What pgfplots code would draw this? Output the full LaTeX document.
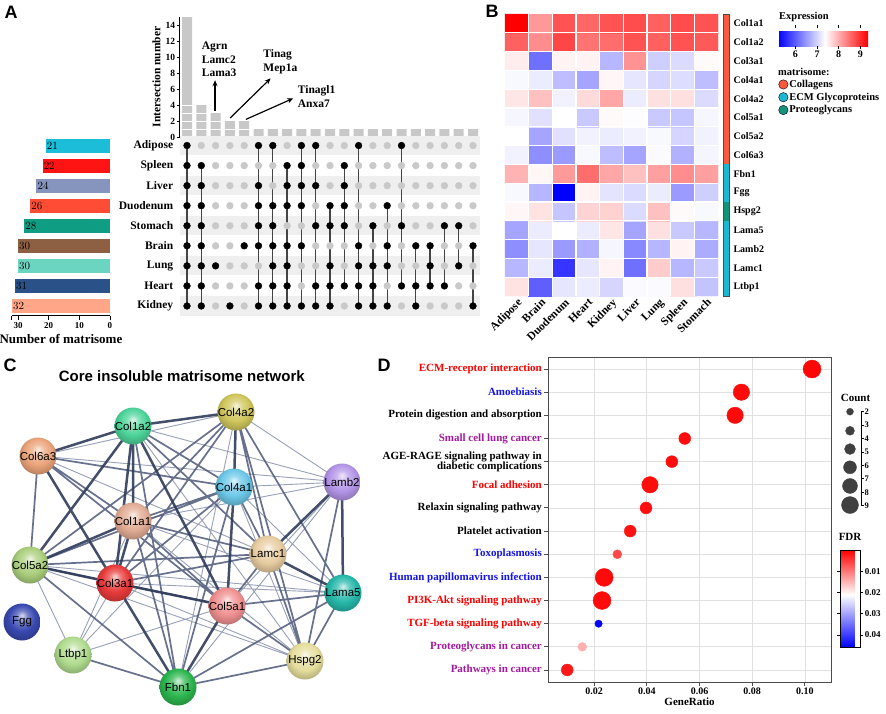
\documentclass[border=0pt]{standalone}
\usepackage{fontspec}
\setmainfont{Liberation Serif}
\setsansfont{Liberation Sans}
\usepackage{pgfplots}
\pgfplotsset{compat=1.18}
\usetikzlibrary{plotmarks,arrows.meta}
\newcommand{\fs}[1]{\fontsize{#1}{#1}\selectfont}
\definecolor{barg}{HTML}{C8C8C8}
\definecolor{dotg}{HTML}{C9C9C9}
\definecolor{stripe}{HTML}{EFEFEF}
\definecolor{vline}{HTML}{444444}
\definecolor{cAd}{HTML}{1BBDD9}
\definecolor{cSp}{HTML}{FF1414}
\definecolor{cLi}{HTML}{8595BE}
\definecolor{cDu}{HTML}{FF4D35}
\definecolor{cSt}{HTML}{0F9E83}
\definecolor{cBr}{HTML}{8D5F43}
\definecolor{cLu}{HTML}{6CD5C1}
\definecolor{cHe}{HTML}{2A5289}
\definecolor{cKi}{HTML}{FFA688}
\definecolor{mCol}{HTML}{F85A3E}
\definecolor{mECM}{HTML}{1CB8D2}
\definecolor{mPro}{HTML}{14937A}
\definecolor{tred}{HTML}{FF0000}
\definecolor{tblue}{HTML}{1414E6}
\definecolor{tpur}{HTML}{A3199F}
\definecolor{eThick}{HTML}{2F3B5A}
\definecolor{eMed}{HTML}{4D5878}
\definecolor{eThin}{HTML}{98A1B8}
\definecolor{cntg}{HTML}{404040}
\definecolor{n4a2}{HTML}{CFC65C}
\definecolor{n1a2}{HTML}{4CD49A}
\definecolor{n6a3}{HTML}{EBA47A}
\definecolor{n4a1}{HTML}{6CC8E8}
\definecolor{nLb2}{HTML}{B395E8}
\definecolor{n1a1}{HTML}{E2AC94}
\definecolor{nLc1}{HTML}{E8CCA0}
\definecolor{n5a2}{HTML}{AACF7C}
\definecolor{n3a1}{HTML}{E83A3A}
\definecolor{nLa5}{HTML}{26B8AA}
\definecolor{n5a1}{HTML}{F09090}
\definecolor{nFgg}{HTML}{3848B0}
\definecolor{nLt1}{HTML}{B0DC8E}
\definecolor{nHs2}{HTML}{E6DE9C}
\definecolor{nFb1}{HTML}{2CB64E}
\colorlet{nodec}{gray}
\pgfdeclareradialshading[nodec]{sball}{\pgfpoint{0bp}{9bp}}{color(0bp)=(nodec!20!white); color(8bp)=(nodec!70!white); color(18bp)=(nodec); color(28bp)=(nodec!80!black); color(50bp)=(nodec!60!black)}
\pgfdeclareplotmark{sball}{\pgfpathcircle{\pgfpointorigin}{\pgfplotmarksize}\pgfshadepath{sball}{0}\pgfusepath{}}
\begin{document}
\begin{tikzpicture}
\fill[white] (0pt,0pt) rectangle (886pt,-713pt);
\useasboundingbox (0pt,0pt) rectangle (886pt,-713pt);

% panel letters
\node[font=\sffamily\bfseries\fs{18}] at (11pt,-12pt) {A};
\node[font=\sffamily\bfseries\fs{18}] at (492pt,-11pt) {B};
\node[font=\sffamily\bfseries\fs{18}] at (10pt,-365pt) {C};
\node[font=\sffamily\bfseries\fs{18}] at (384pt,-365pt) {D};

% ---------------- A1: intersection bars
\begin{axis}[
  at={(179.85pt,-137pt)}, anchor=south west, scale only axis,
  width=300.3pt, height=120pt,
  xmin=0.5, xmax=21.5, ymin=0, ymax=15,
  axis x line=bottom, axis y line=left,
  axis line style={-, black, line width=1pt},
  xtick=\empty, ytick={0,2,4,6,8,10,12,14}, yticklabels={0,2,4,6,8,10,12,14},
  tick align=outside, major tick length=3pt, tick style={black, line width=0.8pt},
  yticklabel style={font=\bfseries\fs{9.5}, inner sep=1.5pt},
  ylabel={Intersection number}, ylabel style={font=\bfseries\fs{11.5}},
  clip=false]
\addplot[ybar, bar width=10pt, fill=barg, draw=none] coordinates {(1,15) (2,4) (3,3) (4,2) (5,2) (6,1) (7,1) (8,1) (9,1) (10,1) (11,1) (12,1) (13,1) (14,1) (15,1) (16,1) (17,1) (18,1) (19,1) (20,1) (21,1)};
\addplot[white, line width=0.8pt, unbounded coords=jump] coordinates {(0.5,1) (5.5,1) (nan,nan) (0.5,2) (3.5,2) (nan,nan) (0.5,3) (2.5,3) (nan,nan) (0.5,4) (1.5,4)};
\addplot[-{Stealth[length=6pt,width=5pt]}, line width=1.2pt] coordinates {(2.96,3.25) (2.96,7.1)};
\addplot[-{Stealth[length=6pt,width=5pt]}, line width=1.2pt] coordinates {(4.02,2.38) (6.85,7.33)};
\addplot[-{Stealth[length=6pt,width=5pt]}, line width=1.2pt] coordinates {(5.12,2.2) (8.43,4.83)};
\node[anchor=north west, align=left, inner sep=0pt, font=\bfseries\fontsize{11.5}{13.5}\selectfont] at (axis cs:2.03,11.9) {Agrn\\Lamc2\\Lama3};
\node[anchor=north west, align=left, inner sep=0pt, font=\bfseries\fontsize{11.5}{13.5}\selectfont] at (axis cs:6.33,10.9) {Tinag\\Mep1a};
\node[anchor=north west, align=left, inner sep=0pt, font=\bfseries\fontsize{11.5}{13.5}\selectfont] at (axis cs:8.74,6.4) {Tinagl1\\Anxa7};
\end{axis}

% ---------------- A2: dot matrix
\begin{axis}[
  at={(179.85pt,-135.5pt)}, anchor=north west, scale only axis,
  width=300.3pt, height=180.5pt,
  xmin=0.5, xmax=21.5, ymin=0.5, ymax=9.5, y dir=reverse,
  axis line style={draw=none}, xtick=\empty, ytick={1,...,9},
  yticklabels={Adipose,Spleen,Liver,Duodenum,Stomach,Brain,Lung,Heart,Kidney},
  major tick length=0pt, ytick pos=left,
  yticklabel style={font=\bfseries\fs{11.5}, inner sep=0pt, xshift=-6.5pt},
  clip=false]
\addplot[fill=stripe, draw=none] coordinates {(0.5,0.52) (21.5,0.52) (21.5,1.48) (0.5,1.48)} --cycle;
\addplot[fill=stripe, draw=none] coordinates {(0.5,2.52) (21.5,2.52) (21.5,3.48) (0.5,3.48)} --cycle;
\addplot[fill=stripe, draw=none] coordinates {(0.5,4.52) (21.5,4.52) (21.5,5.48) (0.5,5.48)} --cycle;
\addplot[fill=stripe, draw=none] coordinates {(0.5,6.52) (21.5,6.52) (21.5,7.48) (0.5,7.48)} --cycle;
\addplot[fill=stripe, draw=none] coordinates {(0.5,8.52) (21.5,8.52) (21.5,9.48) (0.5,9.48)} --cycle;
\addplot[only marks, mark=*, mark size=3.4pt, color=dotg] coordinates {
(2,1)
(3,1) (3,2) (3,3) (3,4) (3,5) (3,6) (3,8) (3,9)
(4,1) (4,2) (4,3) (4,4) (4,5) (4,6) (4,7) (4,8)
(5,1) (5,2) (5,3) (5,4) (5,5) (5,7) (5,8) (5,9)
(6,2) (6,7)
(7,2) (7,3)
(8,1) (8,5)
(9,5) (9,7) (9,8)
(10,2) (10,4) (10,6) (10,7)
(11,1) (11,2) (11,3) (11,6)
(12,1) (12,6) (12,7) (12,9)
(13,2) (13,3) (13,4) (13,5)
(14,1) (14,2) (14,3) (14,4) (14,6)
(15,1) (15,2) (15,3) (15,5) (15,8)
(16,2) (16,3) (16,4) (16,6) (16,7) (16,9)
(17,1) (17,2) (17,3) (17,4) (17,5) (17,7)
(18,1) (18,2) (18,3) (18,4) (18,5) (18,9)
(19,1) (19,2) (19,3) (19,4) (19,6) (19,7) (19,9)
(20,1) (20,2) (20,3) (20,4) (20,6) (20,8) (20,9)
(21,1) (21,2) (21,3) (21,4) (21,5) (21,7) (21,8)};
\addplot[vline, line width=1.3pt, unbounded coords=jump] coordinates {
(1,1) (1,9) (nan,nan) (2,2) (2,9) (nan,nan) (6,1) (6,9) (nan,nan) (7,1) (7,9) (nan,nan)
(8,2) (8,9) (nan,nan) (9,1) (9,9) (nan,nan) (10,1) (10,9) (nan,nan) (11,4) (11,9) (nan,nan)
(12,2) (12,8) (nan,nan) (13,1) (13,9) (nan,nan) (14,5) (14,9) (nan,nan) (15,4) (15,9) (nan,nan)
(16,1) (16,8) (nan,nan) (17,6) (17,9) (nan,nan) (18,6) (18,8) (nan,nan) (19,5) (19,8) (nan,nan)
(20,5) (20,7) (nan,nan) (21,6) (21,9)};
\addplot[only marks, mark=*, mark size=3.4pt, color=black] coordinates {
(1,1) (1,2) (1,3) (1,4) (1,5) (1,6) (1,7) (1,8) (1,9)
(2,2) (2,3) (2,4) (2,5) (2,6) (2,7) (2,8) (2,9)
(3,7) (4,9) (5,6)
(6,1) (6,3) (6,4) (6,5) (6,6) (6,8) (6,9)
(7,1) (7,4) (7,5) (7,6) (7,7) (7,8) (7,9)
(8,2) (8,3) (8,4) (8,6) (8,7) (8,8) (8,9)
(9,1) (9,2) (9,3) (9,4) (9,6) (9,9)
(10,1) (10,3) (10,5) (10,8) (10,9)
(11,4) (11,5) (11,7) (11,8) (11,9)
(12,2) (12,3) (12,4) (12,5) (12,8)
(13,1) (13,6) (13,7) (13,8) (13,9)
(14,5) (14,7) (14,8) (14,9)
(15,4) (15,6) (15,7) (15,9)
(16,1) (16,5) (16,8)
(17,6) (17,8) (17,9)
(18,6) (18,7) (18,8)
(19,5) (19,8)
(20,5) (20,7)
(21,6) (21,9)};
\end{axis}

% ---------------- A3: set sizes
\begin{axis}[
  at={(110pt,-135.5pt)}, anchor=north east, scale only axis,
  width=98.1pt, height=180.5pt,
  xmin=0, xmax=32, x dir=reverse, ymin=0.5, ymax=9.5,
  axis x line=bottom, axis y line=none,
  axis line style={-, black, line width=1pt},
  xtick={0,10,20,30,32}, xticklabels={0,10,20,30,{}},
  tick align=outside, major tick length=4pt, tick style={black, line width=0.8pt},
  xticklabel style={font=\bfseries\fs{9}, inner sep=2.5pt},
  ytick=\empty,
  xlabel={Number of matrisome}, xlabel style={font=\bfseries\fs{13}, inner sep=1pt, yshift=-2pt},
  point meta=x, nodes near coords, nodes near coords align=horizontal,
  every node near coord/.append style={anchor=west, font=\bfseries\fs{10.5}, inner sep=1pt, text=black},
  clip=false]
\addplot[xbar, bar width=14pt, fill=cAd, draw=none] coordinates {(21,9)};
\addplot[xbar, bar width=14pt, fill=cSp, draw=none] coordinates {(22,8)};
\addplot[xbar, bar width=14pt, fill=cLi, draw=none] coordinates {(24,7)};
\addplot[xbar, bar width=14pt, fill=cDu, draw=none] coordinates {(26,6)};
\addplot[xbar, bar width=14pt, fill=cSt, draw=none] coordinates {(28,5)};
\addplot[xbar, bar width=14pt, fill=cBr, draw=none] coordinates {(30,4)};
\addplot[xbar, bar width=14pt, fill=cLu, draw=none] coordinates {(30,3)};
\addplot[xbar, bar width=14pt, fill=cHe, draw=none] coordinates {(31,2)};
\addplot[xbar, bar width=14pt, fill=cKi, draw=none] coordinates {(32,1)};
\end{axis}

% ---------------- B: heatmap
\begin{axis}[
  at={(505pt,-14pt)}, anchor=north west, scale only axis,
  width=213pt, height=282pt,
  xmin=-0.5, xmax=8.5, ymin=-0.5, ymax=14.5,
  axis line style={draw=none}, major tick length=0pt, minor tick length=0pt,
  xtick={0,...,8}, xticklabels={Adipose,Brain,Duodenum,Heart,Kidney,Liver,Lung,Spleen,Stomach},
  xticklabel style={rotate=45, anchor=north east, font=\bfseries\fs{11.5}, inner sep=1pt},
  ytick={0,...,14}, yticklabels={Ltbp1,Lamc1,Lamb2,Lama5,Hspg2,Fgg,Fbn1,Col6a3,Col5a2,Col5a1,Col4a2,Col4a1,Col3a1,Col1a2,Col1a1},
  yticklabel pos=right,
  yticklabel style={anchor=west, font=\bfseries\fs{10}, xshift=12pt},
  minor xtick={0.5,1.5,...,7.5}, minor ytick={0.5,1.5,...,13.5},
  xminorgrids=true, yminorgrids=true, minor grid style={white, line width=1.3pt},
  axis on top,
  colormap={heat}{rgb255(0cm)=(0,0,255) rgb255(5.2cm)=(255,255,255) rgb255(10cm)=(255,0,0)},
  point meta min=5.2, point meta max=9.35,
  colorbar horizontal,
  colorbar style={at={(1.2817,0.950)}, anchor=north west, width=90pt, height=18pt,
    xtick={6,7,8,9}, xticklabels={6,7,8,9},
    xticklabel style={font=\bfseries\fs{10}, inner sep=1.5pt},
    axis line style={draw=none}, tick align=outside, major tick length=3pt, tick style={black, line width=0.8pt},
    title={Expression}, title style={font=\bfseries\fs{10.5}, anchor=south west, at={(0,1)}, inner sep=1pt, yshift=-1pt}},
  legend style={at={(1.283,0.770)}, anchor=north west, draw=none, fill=none,
    font=\bfseries\fs{10.5}, cells={anchor=west}, row sep=2pt, inner sep=0pt, nodes={inner sep=1pt}},
  legend image code/.code={\fill[#1] (4pt,0pt) circle (4.7pt);},
  clip=false]
\addplot[matrix plot*, mesh/cols=9, point meta=explicit, forget plot] table[meta=c] {
x y c
0 0 7.58
1 0 6.0
2 0 7.15
3 0 7.2
4 0 7.0
5 0 7.32
6 0 7.32
7 0 7.6
8 0 6.85
0 1 6.75
1 1 7.2
2 1 5.65
3 1 7.15
4 1 7.45
5 1 6.15
6 1 7.76
7 1 6.75
8 1 6.9
0 2 6.4
1 2 7.15
2 2 6.5
3 2 6.7
4 2 7.28
5 2 6.35
6 2 6.75
7 2 7.45
8 2 6.65
0 3 6.6
1 3 7.2
2 3 7.36
3 3 7.2
4 3 7.55
5 3 6.6
6 3 7.6
7 3 6.9
8 3 6.75
0 4 7.42
1 4 7.58
2 4 6.87
3 4 7.7
4 4 7.72
5 4 7.05
6 4 7.85
7 4 7.4
8 4 7.3
0 5 7.3
1 5 6.75
2 5 5.2
3 5 7.45
4 5 7.13
5 5 7.05
6 5 7.2
7 5 6.5
8 5 6.95
0 6 7.95
1 6 7.43
2 6 8.15
3 6 8.5
4 6 8.05
5 6 7.85
6 6 8.1
7 6 8.25
8 6 8.1
0 7 7.25
1 7 6.4
2 7 6.5
3 7 7.3
4 7 6.8
5 7 6.6
6 7 7.32
7 7 6.7
8 7 7.27
0 8 7.36
1 8 6.6
2 8 7.1
3 8 7.25
4 8 7.2
5 8 7.25
6 8 7.3
7 8 7.0
8 8 7.25
0 9 7.28
1 9 7.1
2 9 7.36
3 9 6.9
4 9 7.4
5 9 7.34
6 9 6.9
7 9 6.87
8 9 7.28
0 10 7.55
1 10 7.85
2 10 7.25
3 10 7.65
4 10 8.05
5 10 7.2
6 10 7.6
7 10 7.6
8 10 7.05
0 11 7.3
1 11 7.2
2 11 6.8
3 11 6.6
4 11 7.43
5 11 7.15
6 11 7.0
7 11 7.07
8 11 6.8
0 12 7.5
1 12 6.15
2 12 7.45
3 12 7.45
4 12 6.75
5 12 8.2
6 12 6.95
7 12 7.05
8 12 7.4
0 13 8.6
1 13 8.25
2 13 8.8
3 13 8.45
4 13 8.5
5 13 8.7
6 13 8.6
7 13 8.7
8 13 8.65
0 14 9.35
1 14 8.16
2 14 8.7
3 14 8.55
4 14 8.7
5 14 8.75
6 14 8.6
7 14 8.75
8 14 8.7
};
\addplot[fill=mCol, draw=none, forget plot] coordinates {(8.71,6.5) (8.96,6.5) (8.96,14.5) (8.71,14.5)} --cycle;
\addplot[fill=mECM, draw=none, forget plot] coordinates {(8.71,4.5) (8.96,4.5) (8.96,6.5) (8.71,6.5)} --cycle;
\addplot[fill=mPro, draw=none, forget plot] coordinates {(8.71,3.5) (8.96,3.5) (8.96,4.5) (8.71,4.5)} --cycle;
\addplot[fill=mECM, draw=none, forget plot] coordinates {(8.71,-0.5) (8.96,-0.5) (8.96,3.5) (8.71,3.5)} --cycle;
\addplot[draw=black!70, line width=0.6pt, forget plot] coordinates {(8.71,-0.5) (8.96,-0.5) (8.96,14.5) (8.71,14.5)} --cycle;
\addlegendimage{fill=mCol}\addlegendentry{Collagens}
\addlegendimage{fill=mECM}\addlegendentry{ECM Glycoproteins}
\addlegendimage{fill=mPro}\addlegendentry{Proteoglycans}
\node[anchor=west, inner sep=0pt, font=\bfseries\fs{10.5}] at (rel axis cs:1.2817,0.794) {matrisome:};
\end{axis}

% ---------------- C: network
\begin{axis}[
  at={(0pt,-390pt)}, anchor=north west, scale only axis,
  width=360pt, height=323pt,
  xmin=0, xmax=360, ymin=390, ymax=713, y dir=reverse,
  axis line style={draw=none}, xtick=\empty, ytick=\empty,
  unbounded coords=jump, clip=false,
  title={Core insoluble matrisome network},
  title style={font=\sffamily\bfseries\fs{15}, at={(0.505,1)}, yshift=-1pt},
  netnode/.style={only marks, mark=sball, mark size=18.5pt, mark options={/utils/exec={\colorlet{nodec}{#1}}},
    point meta=explicit symbolic, nodes near coords,
    every node near coord/.append style={anchor=center, font=\sffamily\fs{11.5}, text=black, inner sep=0pt}}]
\addplot[eThin, line width=0.9pt] coordinates {
(38,456) (342,482) (nan,nan) (38,456) (268,554) (nan,nan) (236,412) (342,482) (nan,nan)
(133,426) (342,482) (nan,nan) (133,426) (305,661) (nan,nan) (133,521) (342,482) (nan,nan)
(133,521) (343,593) (nan,nan) (133,521) (305,661) (nan,nan) (234,487) (342,482) (nan,nan)
(234,487) (343,593) (nan,nan) (234,487) (305,661) (nan,nan) (30,565) (343,593) (nan,nan)
(30,565) (305,661) (nan,nan) (115,583) (343,593) (nan,nan) (115,583) (305,661) (nan,nan)
(30,565) (73,655) (nan,nan) (73,655) (133,521) (nan,nan) (73,655) (227,606) (nan,nan)
(73,655) (234,487) (nan,nan) (342,482) (227,606) (nan,nan) (178,687) (342,482) (nan,nan)
(38,456) (236,412) (nan,nan) (73,655) (115,583) (nan,nan) (236,412) (178,687)};
\addplot[eMed, line width=1.7pt, opacity=0.85] coordinates {
(38,456) (30,565) (nan,nan) (38,456) (133,521) (nan,nan) (38,456) (234,487) (nan,nan)
(38,456) (227,606) (nan,nan) (133,426) (234,487) (nan,nan) (133,426) (178,687) (nan,nan)
(133,426) (268,554) (nan,nan) (236,412) (133,521) (nan,nan) (236,412) (30,565) (nan,nan)
(236,412) (115,583) (nan,nan) (236,412) (268,554) (nan,nan) (236,412) (305,661) (nan,nan)
(236,412) (343,593) (nan,nan) (234,487) (30,565) (nan,nan) (234,487) (115,583) (nan,nan)
(234,487) (133,521) (nan,nan) (234,487) (178,687) (nan,nan) (234,487) (268,554) (nan,nan)
(133,521) (227,606) (nan,nan) (133,521) (268,554) (nan,nan) (133,521) (178,687) (nan,nan)
(30,565) (268,554) (nan,nan) (30,565) (227,606) (nan,nan) (30,565) (178,687) (nan,nan)
(115,583) (268,554) (nan,nan) (227,606) (343,593) (nan,nan) (227,606) (305,661) (nan,nan)
(227,606) (268,554) (nan,nan) (178,687) (73,655) (nan,nan) (178,687) (343,593) (nan,nan)
(178,687) (305,661) (nan,nan) (268,554) (305,661) (nan,nan) (343,593) (305,661) (nan,nan)
(342,482) (305,661)};
\addplot[eThick, line width=2.5pt, opacity=0.9] coordinates {
(133,426) (133,521) (nan,nan) (133,426) (115,583) (nan,nan) (133,426) (30,565) (nan,nan)
(133,521) (115,583) (nan,nan) (133,521) (30,565) (nan,nan) (115,583) (30,565) (nan,nan)
(115,583) (227,606) (nan,nan) (115,583) (178,687) (nan,nan) (38,456) (115,583) (nan,nan)
(133,426) (227,606) (nan,nan) (236,412) (234,487) (nan,nan) (234,487) (227,606) (nan,nan)
(342,482) (268,554) (nan,nan) (342,482) (343,593) (nan,nan) (268,554) (343,593) (nan,nan)
(133,426) (236,412) (nan,nan) (227,606) (178,687) (nan,nan) (133,426) (38,456)};
\addplot[netnode=n4a2] coordinates {(236,412) [Col4a2]};
\addplot[netnode=n1a2] coordinates {(133,426) [Col1a2]};
\addplot[netnode=n6a3] coordinates {(38,456) [Col6a3]};
\addplot[netnode=n4a1] coordinates {(234,487) [Col4a1]};
\addplot[netnode=nLb2] coordinates {(342,482) [Lamb2]};
\addplot[netnode=n1a1] coordinates {(133,521) [Col1a1]};
\addplot[netnode=nLc1] coordinates {(268,554) [Lamc1]};
\addplot[netnode=n5a2] coordinates {(30,565) [Col5a2]};
\addplot[netnode=n3a1] coordinates {(115,583) [Col3a1]};
\addplot[netnode=nLa5] coordinates {(343,593) [Lama5]};
\addplot[netnode=n5a1] coordinates {(227,606) [Col5a1]};
\addplot[netnode=nFgg] coordinates {(22,622) [Fgg]};
\addplot[netnode=nLt1] coordinates {(73,655) [Ltbp1]};
\addplot[netnode=nHs2] coordinates {(305,661) [Hspg2]};
\addplot[netnode=nFb1] coordinates {(178,687) [Fbn1]};
\end{axis}

% ---------------- D: dot plot
\begin{axis}[
  at={(548pt,-357pt)}, anchor=north west, scale only axis,
  width=283pt, height=325pt,
  xmin=0.0025, xmax=0.1099, ymin=0.48, ymax=14.52,
  xmajorgrids=true, ymajorgrids=true, grid style={black!12, line width=0.7pt},
  axis line style={black!70, line width=1pt},
  xtick={0.02,0.04,0.06,0.08,0.10}, xticklabels={0.02,0.04,0.06,0.08,0.10},
  ytick={1,...,14},
  yticklabels={
    \textcolor{tpur}{Pathways in cancer},
    \textcolor{tpur}{Proteoglycans in cancer},
    \textcolor{tred}{TGF-beta signaling pathway},
    \textcolor{tred}{PI3K-Akt signaling pathway},
    \textcolor{tblue}{Human papillomavirus infection},
    \textcolor{tblue}{Toxoplasmosis},
    Platelet activation,
    Relaxin signaling pathway,
    \textcolor{tred}{Focal adhesion},
    {AGE-RAGE signaling pathway in\\diabetic complications},
    \textcolor{tpur}{Small cell lung cancer},
    Protein digestion and absorption,
    \textcolor{tblue}{Amoebiasis},
    \textcolor{tred}{ECM-receptor interaction}},
  tick align=outside, xtick pos=bottom, ytick pos=left, major tick length=4pt,
  tick style={black!70, line width=0.9pt},
  xticklabel style={font=\bfseries\fs{10}, inner sep=2pt},
  yticklabel style={font=\bfseries\fontsize{11}{10.5}\selectfont, align=right, inner sep=2pt},
  xlabel={GeneRatio}, xlabel style={font=\bfseries\fs{11}, inner sep=1pt},
  colormap={fdr}{rgb255(0cm)=(0,0,255) rgb255(5.4cm)=(255,255,255) rgb255(10cm)=(255,0,0)},
  point meta min=-0.0457, point meta max=0,
  colorbar,
  colorbar style={at={(1.032,0.406)}, anchor=north west, width=20pt, height=97pt,
    scaled y ticks=false,
    ytick={-0.04,-0.03,-0.02,-0.01}, yticklabels={0.04,0.03,0.02,0.01},
    yticklabel style={font=\bfseries\fs{9}, inner sep=1.5pt},
    tick align=outside, major tick length=3pt, tick style={black, line width=0.8pt},
    title={FDR}, title style={font=\bfseries\fs{11}}},
  clip=false]
\addplot[scatter, only marks, mark=*, point meta={-\thisrow{f}},
  scatter/use mapped color={draw=mapped color, fill=mapped color},
  visualization depends on={2.2+0.75*\thisrow{n} \as \msz},
  scatter/@pre marker code/.append style={/tikz/mark size=\msz pt}] table {
x y n f
0.1027 14 9 0.0005
0.0759 13 8 0.0008
0.0735 12 8 0.0008
0.0544 11 5 0.001
0.0495 10 5 0.001
0.0412 9 8 0.001
0.0397 8 5 0.0012
0.0337 7 5 0.0015
0.0288 6 3 0.006
0.0238 5 9 0.0008
0.0230 4 9 0.0008
0.0217 3 2 0.0452
0.0155 2 3 0.0145
0.0098 1 5 0.002
};
\end{axis}

% ---------------- D: Count legend
\begin{axis}[
  at={(850pt,-411.7pt)}, anchor=north west, scale only axis,
  width=11pt, height=94pt,
  xmin=0, xmax=1, ymin=2, ymax=9, y dir=reverse,
  axis x line=none, axis y line=right, axis line style={-, black, line width=0.8pt},
  ytick={2,...,9}, yticklabels={2,3,4,5,6,7,8,9},
  tick align=outside, major tick length=2.5pt, tick style={black, line width=0.8pt},
  yticklabel style={font=\bfseries\fs{8.5}, inner sep=1pt},
  title={Count}, title style={font=\bfseries\fs{11}, yshift=1pt},
  clip=false]
\addplot[scatter, only marks, mark=*, point meta=y,
  scatter/use mapped color={draw=cntg, fill=cntg},
  visualization depends on={2.0+0.72*\thisrow{n} \as \msz},
  scatter/@pre marker code/.append style={/tikz/mark size=\msz pt}] table {
x y n
0 2 2
0 3.42 3.4
0 4.78 4.8
0 6.14 6.2
0 7.53 7.6
0 8.95 9
};
\end{axis}
\end{tikzpicture}
\end{document}
